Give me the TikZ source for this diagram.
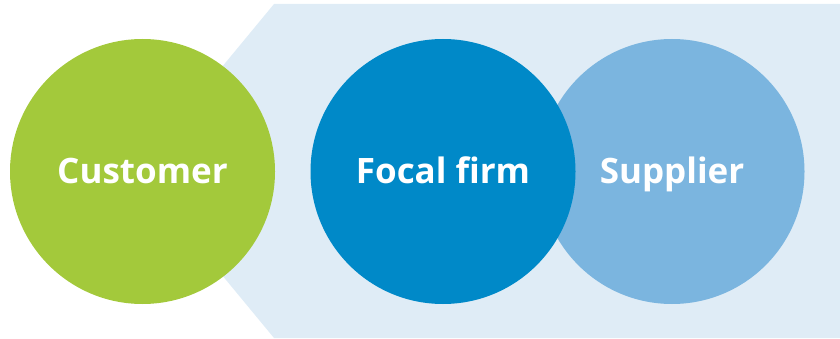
\documentclass[tikz,border=0pt]{standalone}
\usepackage{fontspec}
\setmainfont{Open Sans}
\definecolor{custgreen}{HTML}{A3C93B}
\definecolor{focalblue}{HTML}{0089C8}
\definecolor{supblue}{HTML}{7BB5DF}
\definecolor{bandblue}{HTML}{DFECF6}
\begin{document}
\begin{tikzpicture}[x=1pt,y=-1pt,
  disc/.style={circle,minimum size=265pt,inner sep=0pt,text=white,
    text height=25pt,text depth=0pt,
    font=\fontsize{35}{40}\selectfont\bfseries}]
\useasboundingbox (0,0) rectangle (840,339);
% chevron band behind the focal firm and supplier
\fill[bandblue] (274,4) -- (840,4) -- (840,338) -- (274,338) -- (136,171) -- cycle;
\node[disc,fill=supblue] (supplier) at (672,171.5) {Supplier};
\node[disc,fill=focalblue] (focal) at (443,171.5) {Focal firm};
\node[disc,fill=custgreen] (customer) at (142.5,171.5) {Customer};
\end{tikzpicture}
\end{document}
